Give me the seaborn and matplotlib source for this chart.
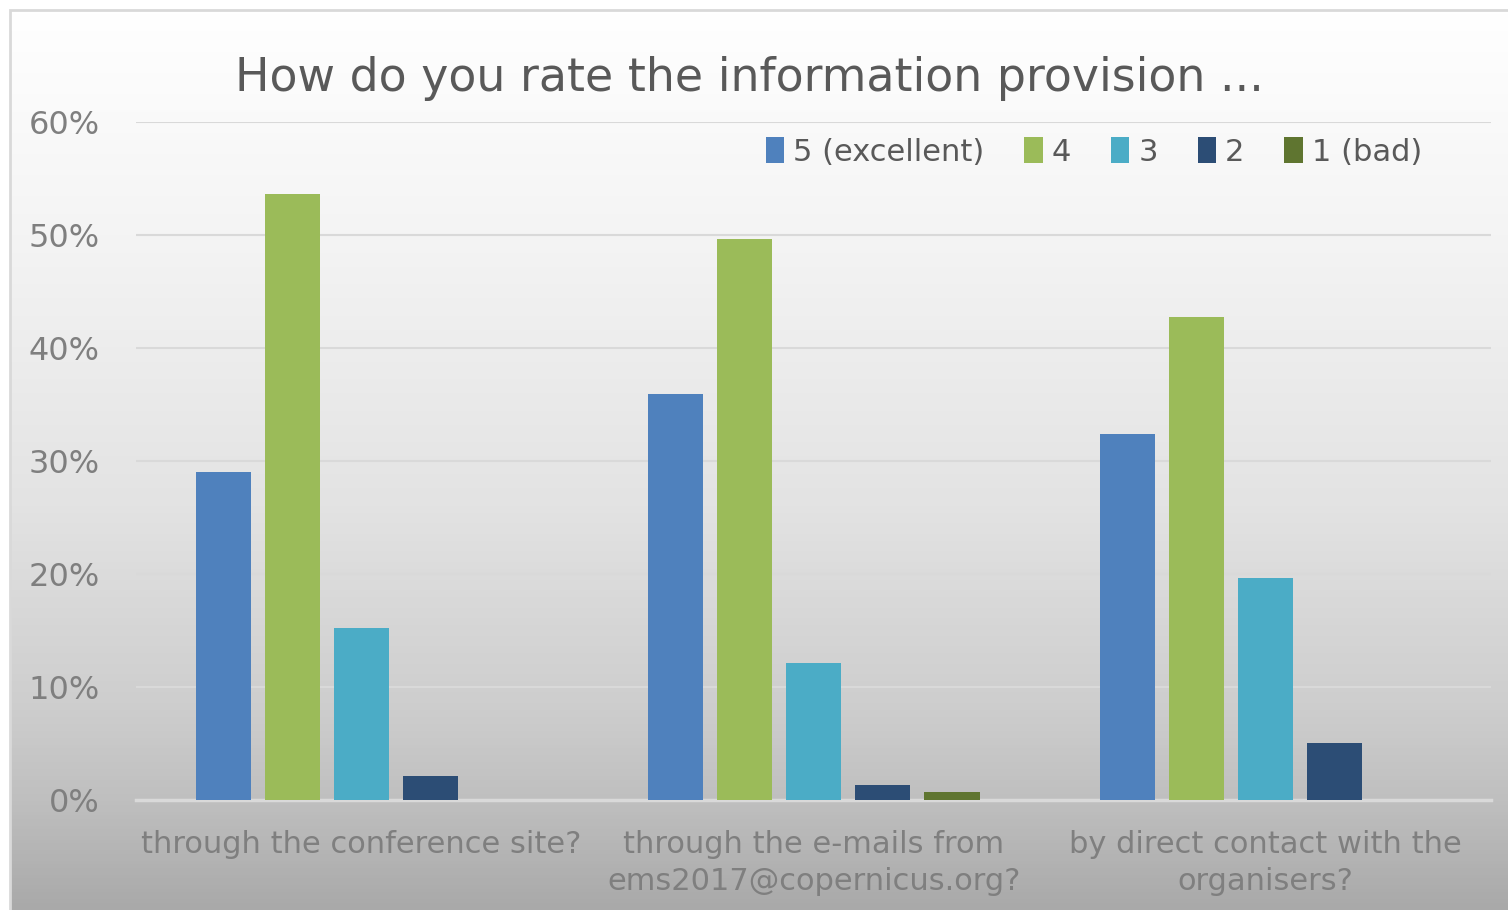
import matplotlib.pyplot as plt
import numpy as np
import pandas as pd
import seaborn as sns
from matplotlib.colors import LinearSegmentedColormap
from matplotlib.patches import Rectangle

# Data (percent of answers)
questions = ['through the conference site?',
             'through the e-mails from\nems2017@copernicus.org?',
             'by direct contact with the\norganisers?']
ratings = ['5 (excellent)', '4', '3', '2', '1 (bad)']
excellent = [29.0, 35.9, 32.4]
four = [53.6, 49.6, 42.7]
three = [15.2, 12.1, 19.6]
two = [2.1, 1.3, 5.0]
bad = [0.0, 0.7, 0.0]
colors = ['#4F81BD', '#9BBB59', '#4BACC6', '#2C4D75', '#5F7530']

df = pd.DataFrame({'question': questions * 5,
                   'rating': np.repeat(ratings, 3),
                   'value': excellent + four + three + two + bad})

sns.set_theme(style='white')
plt.rcParams['font.family'] = ['DejaVu Sans']

fig = plt.figure(figsize=(15.08, 9.10), dpi=100)

# Background gradient with light frame
bg = fig.add_axes([0, 0, 1, 1], zorder=-10)
bg.set_axis_off()
cmap = LinearSegmentedColormap.from_list(
    'bg', [(0, '#ffffff'), (0.25, '#f4f4f4'), (0.55, '#e3e3e3'),
           (0.78, '#cdcdcd'), (0.88, '#bfbfbf'), (1, '#a9a9a9')])
grad = np.linspace(0, 1, 256).reshape(-1, 1)
bg.imshow(grad, cmap=cmap, aspect='auto', extent=[10 / 1508, 1, 0, 1 - 10 / 910])
bg.add_patch(Rectangle((10 / 1508, -0.01), 1.0, 1 - 10 / 910 + 0.01,
                       fill=False, edgecolor='#d9d9d9', lw=2))
bg.set_xlim(0, 1)
bg.set_ylim(0, 1)

ax = fig.add_axes([0.090, 0.121, 0.899, 0.745])
ax.patch.set_alpha(0)
sns.barplot(data=df, x='question', y='value', hue='rating', palette=colors,
            saturation=1, linewidth=0, width=0.765, gap=0.2, ax=ax,
            legend=True, zorder=3)

ax.set_ylim(0, 60)
ax.set_yticks(range(0, 61, 10))
ax.set_yticklabels([f'{v}%' for v in range(0, 61, 10)])
ax.yaxis.grid(True, color='#d9d9d9', lw=1.5, zorder=0)
ax.set_axisbelow(True)
for s in ['top', 'right', 'left']:
    ax.spines[s].set_visible(False)
ax.spines['bottom'].set_color('#d9d9d9')
ax.spines['bottom'].set_linewidth(2.5)
ax.set_xlabel('')
ax.set_ylabel('')
ax.tick_params(axis='y', colors='#7f7f7f', labelsize=23, length=0, pad=26)
ax.tick_params(axis='x', colors='#7f7f7f', labelsize=22, length=0, pad=22)
for t in ax.get_yticklabels():
    t.set_color('#7f7f7f')
for t in ax.get_xticklabels():
    t.set_color('#7f7f7f')
    t.set_linespacing(1.35)

handles, labels = ax.get_legend_handles_labels()
ax.get_legend().remove()
fig.legend(handles, labels, loc='center', bbox_to_anchor=(1094 / 1508, 0.833),
           ncol=5, frameon=False, fontsize=22, handlelength=0.6, handleheight=0.9,
           handletextpad=0.3, columnspacing=1.3, labelcolor='#595959')

fig.text(0.497, 0.914, 'How do you rate the information provision ...',
         ha='center', va='center', fontsize=33, color='#595959')

fig.savefig('out.png', dpi=100)
